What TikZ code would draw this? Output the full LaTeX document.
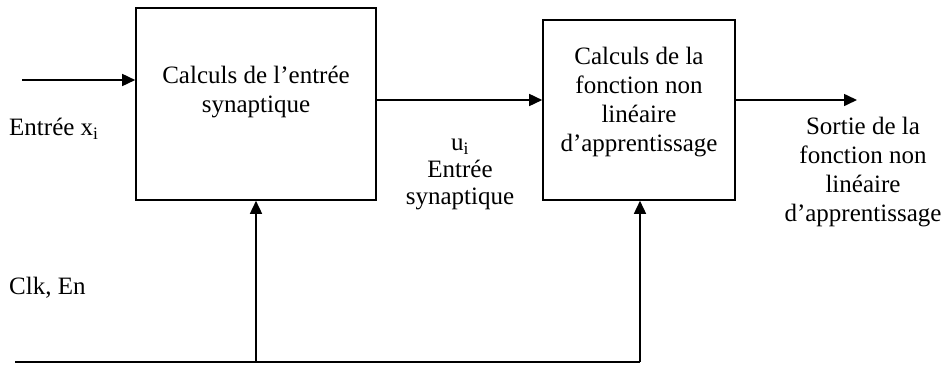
\documentclass[tikz,border=0pt]{standalone}
\usepackage{fontspec}
\setmainfont{Liberation Serif}
\usetikzlibrary{arrows.meta}
\tikzset{
    bloc/.style={draw, line width=1.6pt, inner sep=0pt},
    fleche/.style={line width=1.6pt, -{Triangle[length=13pt,width=12pt]}},
    texte/.style={align=center, inner sep=0pt, font=\fontsize{25}{29}\selectfont}
}
\begin{document}
\begin{tikzpicture}[x=1pt,y=-1pt]
        \useasboundingbox (0,0) rectangle (943,367);
        \node[bloc, minimum width=240pt, minimum height=192pt] (calc1) at (256,104) {};
        \node[bloc, minimum width=192pt, minimum height=180pt] (calc2) at (639,110) {};
        \node[texte, anchor=north] (t1) at (256,66) {Calculs de l'entrée\\synaptique};
        \node[texte, anchor=north] (t2) at (639,47) {Calculs de la\\fonction non\\linéaire\\d'apprentissage};
        \node[texte, anchor=west] (entree) at (9,129) {Entrée x\textsubscript{i}};
        \node[texte, anchor=north, font=\fontsize{25}{27}\selectfont] (ui) at (460,139) {u\textsubscript{i}\\Entrée\\synaptique};
        \node[texte, anchor=north] (sortie) at (863,117) {Sortie de la\\fonction non\\linéaire\\d'apprentissage};
        \node[texte, anchor=west] (clk) at (9,288) {Clk, En};
        \coordinate (xin) at (22,80);
        \coordinate (yout) at (857,100);
        \coordinate (cdeb) at (15,362);
        \coordinate (cfin) at (640,362);
        \coordinate (cmil) at (256,362);
        \draw[fleche] (xin) -- (xin -| calc1.west);
        \draw[fleche] (calc1.east |- yout) -- (calc2.west |- yout);
        \draw[fleche] (calc2.east |- yout) -- (yout);
        \draw[line width=2.4pt] (cdeb) -- (cfin);
        \draw[fleche] (cfin) -- (calc2.south -| cfin);
        \draw[fleche] (cmil) -- (calc1.south);
\end{tikzpicture}
\end{document}
